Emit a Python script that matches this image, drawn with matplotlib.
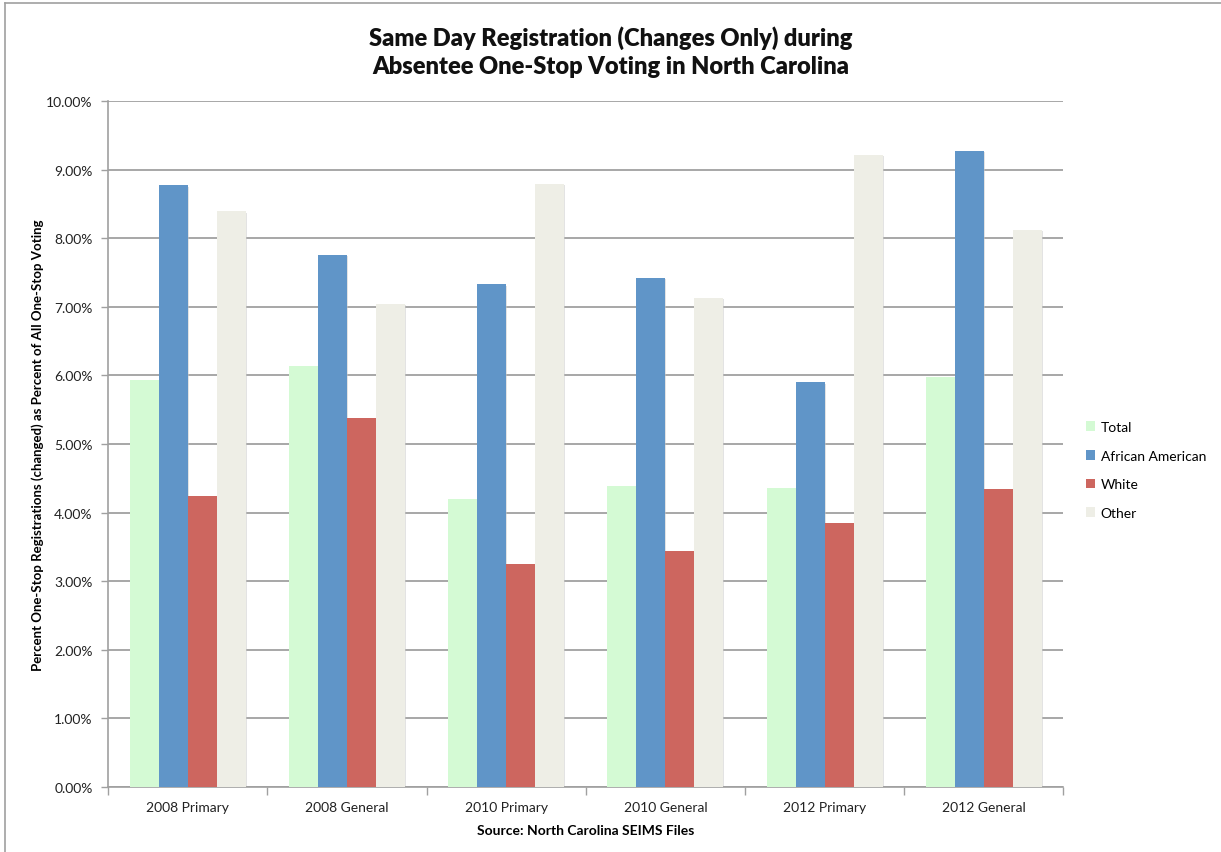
import matplotlib
matplotlib.use("Agg")
import matplotlib.pyplot as plt
import numpy as np
from matplotlib.ticker import FuncFormatter, FixedLocator

plt.rcParams['font.family'] = ['Lato', 'DejaVu Sans']

categories = ["2008 Primary", "2008 General", "2010 Primary",
              "2010 General", "2012 Primary", "2012 General"]
series_names = ["Total", "African American", "White", "Other"]
total = [5.93, 6.14, 4.20, 4.39, 4.36, 5.97]
african_american = [8.77, 7.76, 7.33, 7.42, 5.90, 9.27]
white = [4.24, 5.38, 3.25, 3.44, 3.85, 4.34]
other = [8.39, 7.04, 8.79, 7.13, 9.22, 8.12]
colors = ["#D4FAD4", "#6095C8", "#CD665F", "#EEEEE6"]

values = [total, african_american, white, other]

fig = plt.figure(figsize=(12.21, 8.53), dpi=100)
ax = fig.add_axes([0.0885, 0.0762, 0.7825, 0.8042])

x = np.arange(len(categories))
width = 0.182
for i, (vals, col, name) in enumerate(zip(values, colors, series_names)):
    offs = (i - 1.5) * width
    # soft drop shadow behind each bar
    ax.bar(x + offs + 0.006, vals, width, bottom=-0.02, color="#c8c8c8",
           alpha=0.5, zorder=2, linewidth=0)
    ax.bar(x + offs, vals, width, color=col, label=name, zorder=3, linewidth=0)

ax.set_xlim(-0.5, len(categories) - 0.5)
ax.set_ylim(0, 10)
ax.set_yticks(np.arange(0, 11, 1))
ax.yaxis.set_major_formatter(FuncFormatter(lambda v, p: f"{v:.2f}%"))
ax.yaxis.grid(True, color="#a0a0a0", linewidth=1.3, zorder=0)
ax.set_axisbelow(True)

ax.set_xticks(x)
ax.set_xticklabels(categories)
ax.xaxis.set_minor_locator(FixedLocator(np.arange(-0.5, len(categories), 1)))
ax.tick_params(axis="x", which="major", length=0, pad=10, labelsize=10, colors="#222222")
ax.tick_params(axis="x", which="minor", length=6, width=1, color="#a0a0a0")
ax.tick_params(axis="y", length=5, width=1, color="#a0a0a0", labelsize=10,
               labelcolor="#222222", pad=6)

for s in ["top", "right"]:
    ax.spines[s].set_visible(False)
for s in ["left", "bottom"]:
    ax.spines[s].set_color("#a0a0a0")
    ax.spines[s].set_linewidth(1.2)

ax.set_ylabel("Percent One-Stop Registrations (changed) as Percent of All One-Stop Voting",
              fontsize=9.5, fontweight="bold", labelpad=2)
ax.set_xlabel("Source: North Carolina SEIMS Files", fontsize=10, fontweight="bold",
              labelpad=8)

fig.text(0.5, 0.939, "Same Day Registration (Changes Only) during\nAbsentee One-Stop Voting in North Carolina",
         ha="center", va="center", fontsize=17, fontweight="heavy", linespacing=1.35,
         color="#111111")

leg = ax.legend(loc="center left", bbox_to_anchor=(1.01, 0.462), frameon=False,
                fontsize=10, handlelength=0.7, handleheight=0.7, labelspacing=1.2,
                handletextpad=0.4)

# chart frame edges
fig.add_artist(plt.Line2D([0.004, 0.004], [0, 0.995], transform=fig.transFigure,
                          color="#a0a0a0", linewidth=1.2))
fig.add_artist(plt.Line2D([0.004, 1], [0.995, 0.995], transform=fig.transFigure,
                          color="#a0a0a0", linewidth=1.2))

fig.savefig("out.png", dpi=100)
